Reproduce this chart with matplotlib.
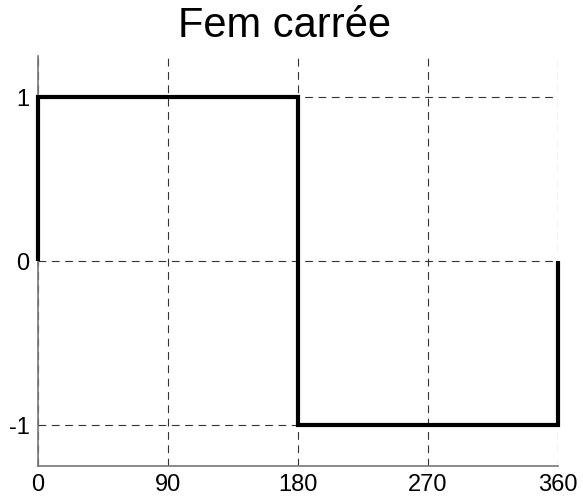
import matplotlib
matplotlib.use("Agg")
import matplotlib.pyplot as plt

# square wave emf over one period (degrees)
angle_deg = [0, 0, 180, 180, 360, 360]
emf = [0, 1, 1, -1, -1, 0]
x_ticks = [0, 90, 180, 270, 360]
y_ticks = [-1, 0, 1]
title = "Fem carrée"

plt.rcParams["font.family"] = ["Liberation Sans", "DejaVu Sans"]
plt.rcParams["axes.unicode_minus"] = False

fig = plt.figure(figsize=(5.83, 4.97), dpi=100)
ax = fig.add_axes([0.0652, 0.0624, 0.892, 0.8246])

ax.plot(angle_deg, emf, color="black", lw=3, solid_capstyle="butt",
        solid_joinstyle="miter", clip_on=False, zorder=3)

ax.set_xlim(0, 360)
ax.set_ylim(-1.25, 1.25)
ax.set_xticks(x_ticks)
ax.set_yticks(y_ticks)
ax.tick_params(length=0, labelsize=17, pad=6, colors="black")

ax.grid(True, color="#333333", lw=0.8, linestyle=(0, (7, 5)))
for side in ("top", "right"):
    ax.spines[side].set_visible(False)
for side in ("left", "bottom"):
    ax.spines[side].set_color("#777777")
    ax.spines[side].set_linewidth(1.2)

# title sits a bit left of the axes centre in the original
fig.text(0.488, 0.9256, title, fontsize=30, ha="center", va="baseline")

fig.savefig("out.png", dpi=100)
